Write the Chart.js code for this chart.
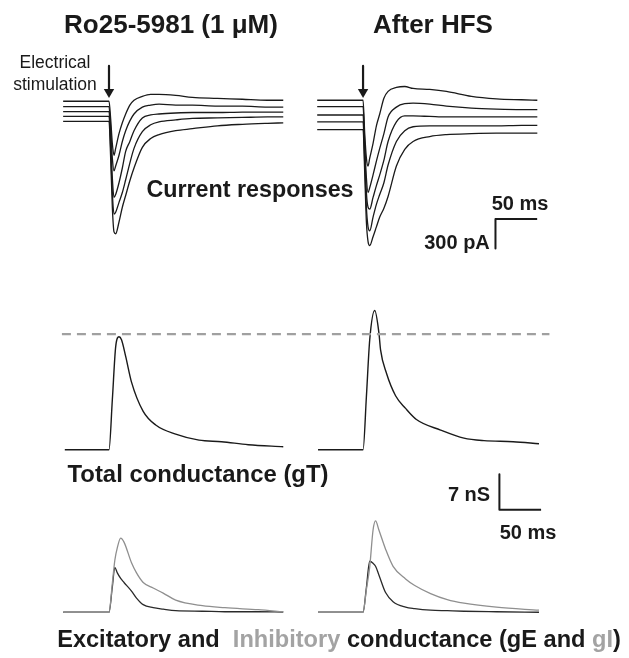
<!DOCTYPE html>
<html><head><meta charset="utf-8">
<script src="https://cdn.jsdelivr.net/npm/chart.js@4/dist/chart.umd.min.js"></script>
<style>
html,body{margin:0;padding:0;background:#fff;}
#wrap{position:relative;width:629px;height:658px;overflow:hidden;font-family:"Liberation Sans",Arial,Helvetica,sans-serif;color:#1a1a1a;}
#c{position:absolute;left:0;top:0;}
.t{position:absolute;white-space:nowrap;transform:translate(-50%,-50%);font-weight:bold;line-height:1;}
.g{color:#a3a3a3;}
</style></head><body>
<div id="wrap">
<canvas id="c" width="629" height="658"></canvas>
<div class="t" style="left:171px;top:24px;font-size:26px">Ro25-5981 (1 μM)</div>
<div class="t" style="left:433px;top:24px;font-size:26px">After HFS</div>
<div class="t" style="left:55px;top:63px;font-size:17.5px;font-weight:normal">Electrical</div>
<div class="t" style="left:55px;top:85px;font-size:17.5px;font-weight:normal">stimulation</div>
<div class="t" style="left:250px;top:190px;font-size:23.3px">Current responses</div>
<div class="t" style="left:520px;top:203px;font-size:20px">50 ms</div>
<div class="t" style="left:457px;top:242px;font-size:20px">300 pA</div>
<div class="t" style="left:198px;top:474px;font-size:23.9px">Total conductance (gT)</div>
<div class="t" style="left:469px;top:494px;font-size:20px">7 nS</div>
<div class="t" style="left:528px;top:532px;font-size:20px">50 ms</div>
<div class="t" style="left:339px;top:640px;font-size:23.6px">Excitatory and&nbsp; <span class="g">Inhibitory</span> conductance (gE and <span class="g">gI</span>)</div>
</div>
<script>
// ---------- DATA (time in ms from stimulation) ----------
// Current responses (pA), five traces per condition
const tCur = [-55, 0, 2, 4, 6, 8, 12, 16, 20, 25, 30, 40, 50, 60, 80, 100, 130, 160, 190, 209];
const curRo1 = [0, 0, -180, -430, -550, -480, -330, -220, -130, -40, 10, 50, 70, 70, 60, 40, 30, 20, 10, 10];
const curRo2 = [-55, -55, -280, -580, -710, -660, -550, -410, -300, -200, -130, -60, -40, -30, -40, -40, -50, -50, -60, -60];
const curRo3 = [-105, -105, -380, -780, -980, -950, -830, -680, -510, -410, -300, -170, -140, -130, -120, -115, -115, -110, -110, -110];
const curRo4 = [-155, -155, -480, -930, -1150, -1130, -1030, -930, -800, -630, -480, -310, -240, -210, -190, -175, -170, -165, -160, -160];
const curRo5 = [-205, -205, -580, -1080, -1330, -1350, -1230, -1080, -960, -810, -680, -470, -380, -340, -300, -280, -250, -235, -225, -220];
const curHfs1 = [10, 10, -330, -580, -660, -580, -430, -250, -130, 30, 100, 140, 150, 130, 120, 100, 50, 25, 15, 10];
const curHfs2 = [-55, -55, -430, -780, -930, -880, -750, -610, -480, -330, -160, -60, -25, -20, -30, -50, -70, -80, -85, -85];
const curHfs3 = [-140, -140, -530, -930, -1080, -1100, -980, -860, -750, -600, -410, -210, -150, -150, -155, -160, -160, -160, -160, -160];
const curHfs4 = [-210, -210, -630, -1080, -1280, -1320, -1180, -1050, -950, -830, -650, -410, -300, -260, -250, -250, -250, -250, -245, -245];
const curHfs5 = [-290, -290, -730, -1230, -1430, -1470, -1380, -1280, -1180, -1090, -970, -660, -490, -410, -360, -340, -330, -325, -325, -325];

// Total conductance gT (nS)
const tGTRo = [-53, 0, 4, 8, 12, 15, 20, 27, 41, 56, 80, 108, 135, 167, 209];
const gTRo = [0, 0, 9.9, 20.4, 22.4, 21.8, 18.5, 13.4, 7.6, 4.9, 3.1, 1.9, 1.6, 1.0, 0.6];
const tGTHfs = [-54, 0, 4, 8, 14, 19, 21, 28, 39, 51, 64, 93, 121, 145, 180, 211];
const gTHfs = [0, 0, 10.5, 21.8, 27.6, 23.2, 19.8, 15.2, 10.7, 8.2, 6.0, 3.9, 2.3, 1.8, 1.6, 1.2];
const gTReference = 22.9; // dashed reference level (nS)

// Excitatory (gE) and inhibitory (gI) conductance (nS)
const tEIRo = [-55, 0, 4, 7, 10, 14, 18, 27, 33, 41, 53, 65, 80, 112, 139, 179, 209];
const gIRo = [0, 0, 5.7, 10.3, 12.8, 14.7, 13.9, 9.8, 7.8, 5.9, 4.8, 3.8, 2.4, 1.3, 0.9, 0.5, 0.1];
const gERo = [0, 0, 5.0, 8.9, 7.8, 6.7, 5.9, 4.2, 2.8, 1.5, 0.9, 0.6, 0.3, 0.2, 0.1, 0.1, 0.05];
const tEIHfs = [-54, 0, 4, 8, 12, 15, 19, 27, 36, 51, 62, 81, 101, 121, 160, 211];
const gIHfs = [0, 0, 4.5, 9.0, 16.3, 18.1, 16.3, 12.5, 9.1, 6.6, 5.3, 3.7, 2.5, 1.8, 1.0, 0.4];
const gEHfs = [0, 0, 4.9, 10.1, 9.7, 9.1, 7.4, 3.9, 2.1, 1.0, 0.7, 0.4, 0.3, 0.2, 0.1, 0];

// Scale bars
const scaleTimeMs = 50;
const scaleCurrentPA = 300;
const scaleCondNS = 7;

// ---------- LAYOUT ----------
const W = 629, H = 658;
const KX = 0.85;                 // px per ms
const stimPx = [105, 364];       // stimulus position of each condition
const xOff = [0, (stimPx[1] - stimPx[0]) / KX];
function yAxis(zeroPx, pxPerUnit) {
  const max = zeroPx / pxPerUnit;
  return { type: 'linear', display: false, min: max - H / pxPerUnit, max: max };
}
const yI = yAxis(97, 0.1);       // pA
const yT = yAxis(452, 5.14);     // nS
const yE = yAxis(617.5, 5.14);   // nS
const pxToX = p => (p - stimPx[0]) / KX;
const pxToY = (ax, p) => ax.max - p * (ax.max - ax.min) / H;

function pts(t, v, k) { return t.map((ti, i) => ({ x: ti + xOff[k], y: v[i] })); }
function trace(t, v, k, axis, color, width) {
  return { data: pts(t, v, k), yAxisID: axis, borderColor: color, borderWidth: width || 1.3,
           pointRadius: 0, fill: false, cubicInterpolationMode: 'monotone' };
}
function seg(p, axis, color, width, dash) {
  return { data: p, yAxisID: axis, borderColor: color, borderWidth: width, pointRadius: 0,
           fill: false, tension: 0, borderDash: dash || [] , borderCapStyle: 'butt'};
}

const datasets = [];
const black = '#1a1a1a';
[[curRo1, curRo2, curRo3, curRo4, curRo5], [curHfs1, curHfs2, curHfs3, curHfs4, curHfs5]].forEach((set, k) => {
  set.forEach(v => datasets.push(trace(tCur, v, k, 'yI', black, 1.3)));
  // stimulation arrow
  datasets.push(seg([{ x: xOff[k], y: pxToY(yI, 61) }, { x: xOff[k], y: pxToY(yI, 85) }], 'yI', black, 2.2));
  datasets.push({ data: [{ x: xOff[k], y: pxToY(yI, 87.5) }], yAxisID: 'yI', showLine: false,
                  pointStyle: 'triangle', rotation: 180, pointRadius: 6, borderWidth: 0,
                  backgroundColor: black, borderColor: black });
});
// gT
datasets.push(seg([{ x: pxToX(57), y: gTReference }, { x: pxToX(554), y: gTReference }], 'yT', '#a0a0a0', 2.2, [9, 6]));
datasets.push(trace(tGTRo, gTRo, 0, 'yT', black, 1.4));
datasets.push(trace(tGTHfs, gTHfs, 1, 'yT', black, 1.4));
// gE / gI
datasets.push(trace(tEIRo, gIRo, 0, 'yE', '#8f8f8f', 1.3));
datasets.push(trace(tEIRo, gERo, 0, 'yE', '#2a2a2a', 1.3));
datasets.push(trace(tEIHfs, gIHfs, 1, 'yE', '#8f8f8f', 1.3));
datasets.push(trace(tEIHfs, gEHfs, 1, 'yE', '#2a2a2a', 1.3));
// current scale bar (corner at top-left)
{
  const cx = pxToX(499), cy = pxToY(yI, 217);
  datasets.push(seg([{ x: cx + scaleTimeMs, y: cy }, { x: cx, y: cy }, { x: cx, y: cy - scaleCurrentPA }], 'yI', black, 2));
}
// conductance scale bar (corner at bottom-left)
{
  const cx = pxToX(503), cy = pxToY(yE, 513);
  datasets.push(seg([{ x: cx, y: cy + scaleCondNS }, { x: cx, y: cy }, { x: cx + scaleTimeMs, y: cy }], 'yE', black, 2));
}

new Chart(document.getElementById('c'), {
  type: 'line',
  data: { datasets },
  options: {
    responsive: false, animation: false, events: [],
    layout: { padding: 0 },
    plugins: { legend: { display: false }, tooltip: { enabled: false }, title: { display: false } },
    scales: {
      x: { type: 'linear', display: false, min: -stimPx[0] / KX, max: (W - stimPx[0]) / KX },
      yI, yT, yE
    },
    elements: { line: { borderJoinStyle: 'round' } }
  }
});
</script>
</body></html>
